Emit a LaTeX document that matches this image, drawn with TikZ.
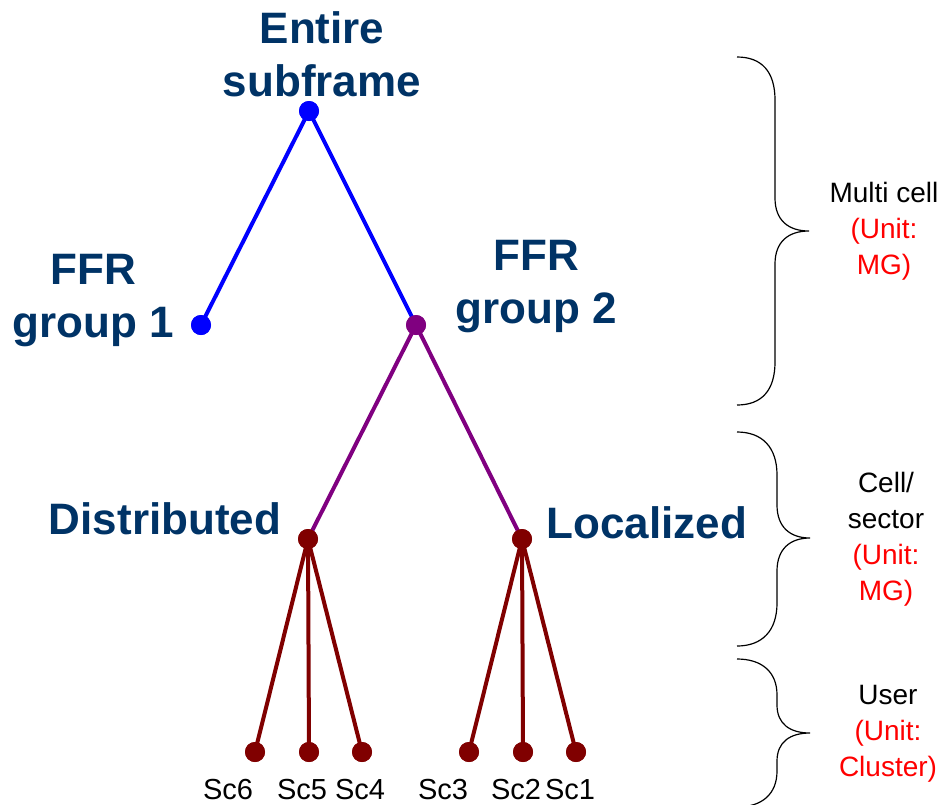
\documentclass[tikz,border=0pt]{standalone}
\usepackage{fontspec}
\setmainfont{Liberation Sans}
\definecolor{lbl}{RGB}{0,51,102}
\definecolor{dblue}{RGB}{0,0,255}
\definecolor{dpurple}{RGB}{128,0,128}
\definecolor{dred}{RGB}{128,0,0}
\definecolor{ured}{RGB}{255,0,0}
\begin{document}
\begin{tikzpicture}[x=1pt,y=-1pt,
  dot/.style={circle,inner sep=0pt,minimum size=20pt,fill=#1},
  edge/.style={draw=#1,line width=4pt},
  big/.style={font=\fontsize{44}{53}\selectfont\bfseries,text=lbl,align=center,inner sep=0pt},
  leaflbl/.style={font=\fontsize{29}{32}\selectfont,anchor=base,inner sep=0pt},
  side/.style={font=\fontsize{28}{36}\selectfont,align=center,inner sep=0pt},
  brace/.style={draw=black,line width=1.2pt}]
\useasboundingbox (0,0) rectangle (944,804);
% tree nodes
\node[dot=dblue] (root) at (309,111) {};
\node[dot=dblue] (g1) at (201,325) {};
\node[dot=dpurple] (g2) at (416,325) {};
\node[dot=dred] (dist) at (308,539) {};
\node[dot=dred] (loc) at (522,539) {};
\node[dot=dred] (s6) at (255,752) {};
\node[dot=dred] (s5) at (309,752) {};
\node[dot=dred] (s4) at (362,752) {};
\node[dot=dred] (s3) at (469,752) {};
\node[dot=dred] (s2) at (523,752) {};
\node[dot=dred] (s1) at (576,752) {};
% edges
\draw[edge=dblue] (root.center) -- (g1.center);
\draw[edge=dblue] (root.center) -- (g2.center);
\draw[edge=dpurple] (g2.center) -- (dist.center);
\draw[edge=dpurple] (g2.center) -- (loc.center);
\foreach \s in {s6,s5,s4} \draw[edge=dred] (dist.center) -- (\s.center);
\foreach \s in {s3,s2,s1} \draw[edge=dred] (loc.center) -- (\s.center);
% redraw dots on top
\foreach \n/\c in {root/dblue,g1/dblue,g2/dpurple,dist/dred,loc/dred,s6/dred,s5/dred,s4/dred,s3/dred,s2/dred,s1/dred}
  \fill[\c] (\n) circle (10pt);
% labels
\node[big] (lroot) at (322,54.5) {Entire\\subframe};
\node[big] (lg1) at (93,301) {FFR\\group 1};
\node[big] (lg2) at (536,287) {FFR\\group 2};
\node[big] (ldist) at (165,519) {Distributed};
\node[big] (lloc) at (647,523) {Localized};
\node[leaflbl] (t6) at (228,799) {Sc6};
\node[leaflbl] (t5) at (302,799) {Sc5};
\node[leaflbl] (t4) at (360,799) {Sc4};
\node[leaflbl] (t3) at (443,799) {Sc3};
\node[leaflbl] (t2) at (516,799) {Sc2};
\node[leaflbl] (t1) at (570,799) {Sc1};
% braces
\draw[brace] (737,57) .. controls (762,57) and (775,72) .. (775,100) -- (775,198)
  .. controls (775,220) and (788,231) .. (809,231)
  .. controls (788,231) and (775,242) .. (775,264) -- (775,362)
  .. controls (775,390) and (762,405) .. (737,405);
\draw[brace] (737,432) .. controls (762,432) and (777,447) .. (777,475) -- (777,505)
  .. controls (777,527) and (790,538) .. (810,538)
  .. controls (790,538) and (777,549) .. (777,571) -- (777,603)
  .. controls (777,631) and (762,646) .. (737,646);
\draw[brace] (737,659) .. controls (762,659) and (777,672) .. (777,695) -- (777,705)
  .. controls (777,724) and (790,733) .. (810,733)
  .. controls (790,733) and (777,742) .. (777,761) -- (777,771)
  .. controls (777,794) and (762,807) .. (737,807);
% side labels
\node[side] (m1) at (884,231.5) {Multi cell\\\textcolor{ured}{(Unit:}\\\textcolor{ured}{MG)}};
\node[side] (m2) at (886,539.5) {Cell/\\sector\\\textcolor{ured}{(Unit:}\\\textcolor{ured}{MG)}};
\node[side] (m3) at (888,733.5) {User\\\textcolor{ured}{(Unit:}\\\textcolor{ured}{Cluster)}};
\end{tikzpicture}
\end{document}
